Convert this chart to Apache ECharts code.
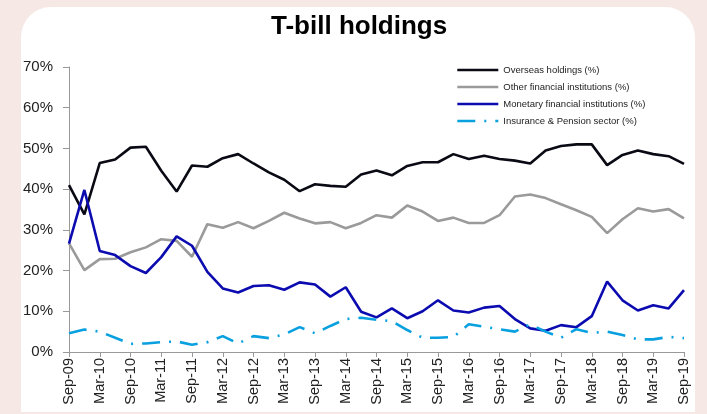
<!DOCTYPE html>
<html>
<head>
<meta charset="utf-8">
<script src="https://cdn.jsdelivr.net/npm/echarts@6/dist/echarts.min.js"></script>
<style>
html,body{margin:0;padding:0;background:#f6e8e5;}
#chart{width:707px;height:414px;}
</style>
</head>
<body>
<div id="chart"></div>
<script>
var categories = ["Sep-09","Dec-09","Mar-10","Jun-10","Sep-10","Dec-10","Mar-11","Jun-11","Sep-11","Dec-11",
  "Mar-12","Jun-12","Sep-12","Dec-12","Mar-13","Jun-13","Sep-13","Dec-13","Mar-14","Jun-14",
  "Sep-14","Dec-14","Mar-15","Jun-15","Sep-15","Dec-15","Mar-16","Jun-16","Sep-16","Dec-16",
  "Mar-17","Jun-17","Sep-17","Dec-17","Mar-18","Jun-18","Sep-18","Dec-18","Mar-19","Jun-19","Sep-19"];

var overseas = [41.0,33.8,46.4,47.3,50.2,50.4,44.5,39.4,45.8,45.5,
  47.6,48.6,46.3,44.1,42.3,39.5,41.2,40.8,40.6,43.6,
  44.6,43.4,45.7,46.6,46.6,48.6,47.4,48.2,47.4,47.0,
  46.3,49.5,50.6,51.0,51.0,45.9,48.4,49.5,48.6,48.1,46.2];

var otherFin = [26.7,20.1,22.8,22.9,24.5,25.7,27.7,27.3,23.4,31.4,
  30.5,31.9,30.4,32.2,34.2,32.8,31.6,31.9,30.4,31.7,
  33.6,33.0,36.0,34.5,32.2,33.0,31.7,31.7,33.6,38.2,
  38.7,37.8,36.3,34.8,33.2,29.2,32.6,35.3,34.5,35.1,32.8];

var monetary = [26.6,39.8,24.8,23.8,21.1,19.4,23.3,28.4,26.1,19.7,
  15.6,14.6,16.2,16.4,15.3,17.1,16.6,13.6,15.9,9.9,
  8.5,10.7,8.3,10.0,12.7,10.2,9.7,10.9,11.3,8.1,
  5.8,5.2,6.6,6.1,8.8,17.3,12.7,10.2,11.5,10.7,15.2];

var insurance = [4.6,5.5,5.0,3.5,2.0,2.1,2.4,2.6,1.8,2.4,
  3.9,2.1,3.9,3.4,4.3,6.1,4.6,6.4,8.1,8.4,
  7.9,7.6,5.4,3.5,3.5,3.7,6.8,6.2,5.6,5.0,
  6.8,5.0,3.5,5.6,4.7,5.0,4.2,3.1,3.1,3.7,3.4];

var seriesNames = ["Overseas holdings (%)","Other financial institutions (%)","Monetary financial institutions (%)","Insurance & Pension sector (%)"];

var chart = echarts.init(document.getElementById('chart'), null, {renderer:'canvas'});
var font = "'Liberation Sans', Arial, sans-serif";

function mk(name, data, color, type) {
  return {
    name: name, type: 'line', data: data, symbol: 'none', smooth: false,
    lineStyle: {color: color, width: 2.6, type: type || 'solid'},
    itemStyle: {color: color},
    emphasis: {disabled: true}
  };
}

chart.setOption({
  animation: false,
  backgroundColor: '#f6e8e5',
  graphic: [{
    type: 'rect', z: -10, silent: true,
    shape: {x: 21, y: 7, width: 674, height: 405, r: [30, 30, 0, 0]},
    style: {fill: '#ffffff'}
  }],
  title: {
    text: 'T-bill holdings', left: 266, top: 9,
    textStyle: {fontFamily: font, fontWeight: 'bold', fontSize: 26, color: '#000'}
  },
  legend: {
    orient: 'vertical', left: 451, top: 60, itemWidth: 41, itemHeight: 8, itemGap: 7,
    data: seriesNames,
    itemStyle: {opacity: 0},
    lineStyle: {width: 2.6},
    textStyle: {fontFamily: font, fontSize: 9.5, color: '#222'}
  },
  grid: {left: 69, right: 23, top: 67, bottom: 62, containLabel: false},
  xAxis: {
    type: 'category', data: categories, boundaryGap: false,
    axisLine: {lineStyle: {color: '#999', width: 1}},
    axisTick: {show: true, interval: 1, length: 5, lineStyle: {color: '#999'}},
    axisLabel: {interval: 1, rotate: 90, fontFamily: font, fontSize: 14.5, color: '#222', margin: 6}
  },
  yAxis: {
    type: 'value', min: 0, max: 70, interval: 10,
    axisLine: {show: true, lineStyle: {color: '#999', width: 1}},
    axisTick: {show: true, length: 6, lineStyle: {color: '#999'}},
    splitLine: {show: false},
    axisLabel: {formatter: '{value}%', fontFamily: font, fontSize: 15, color: '#222', margin: 16}
  },
  series: [
    mk(seriesNames[0], overseas, '#0a0a14'),
    mk(seriesNames[1], otherFin, '#9a9a9a'),
    mk(seriesNames[2], monetary, '#0b0bb0'),
    mk(seriesNames[3], insurance, '#09a0e0', [18, 9, 2, 9])
  ]
});
</script>
</body>
</html>
